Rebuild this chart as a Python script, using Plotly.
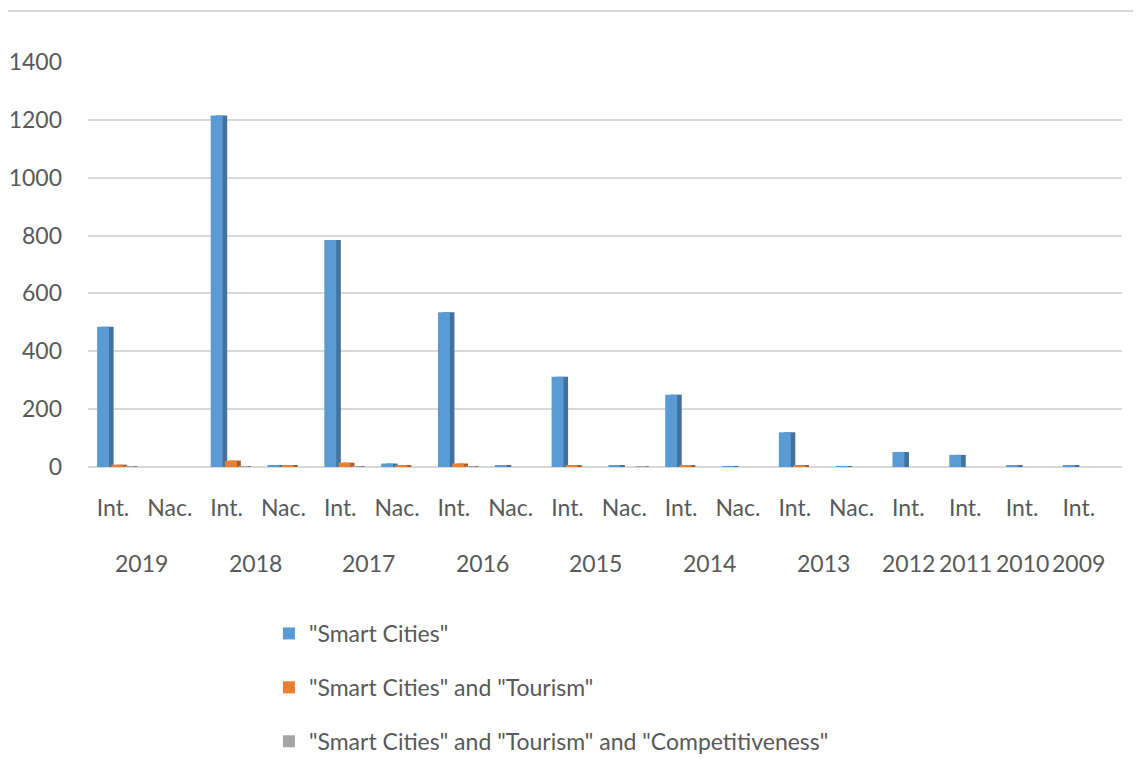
import plotly.graph_objects as go

tick_labels = ["Int.", "Nac.", "Int.", "Nac.", "Int.", "Nac.", "Int.", "Nac.", "Int.", "Nac.",
               "Int.", "Nac.", "Int.", "Nac.", "Int.", "Int.", "Int.", "Int."]
years = ["2019", "2018", "2017", "2016", "2015", "2014", "2013", "2012", "2011", "2010", "2009"]
year_pos = [0.5, 2.5, 4.5, 6.5, 8.5, 10.5, 12.5, 14, 15, 16, 17]

smart_cities = [485, 0, 1215, 5, 785, 12, 535, 4, 312, 4, 250, 3, 120, 3, 52, 42, 4, 4]
smart_tourism = [8, 0, 22, 4, 15, 4, 12, 0, 6, 0, 5, 0, 5, 0, 0, 0, 0, 0]
smart_tourism_comp = [2, 0, 2, 0, 2, 0, 2, 0, 0, 2, 0, 0, 0, 0, 0, 0, 0, 0]

names = ['"Smart Cities"', '"Smart Cities" and "Tourism"',
         '"Smart Cities" and "Tourism" and "Competitiveness"']
colors = ["#5b9bd5", "#ed7d31", "#a5a5a5"]
side_colors = ["#41719c", "#ae5a21", "#7c7c7c"]
series = [smart_cities, smart_tourism, smart_tourism_comp]
# (face offset, face width, side offset, side width) in category units — mimics the 3D look
geom = [(-0.28, 0.21, -0.19, 0.20), (-0.03, 0.21, 0.05, 0.20), (0.21, 0.17, 0.27, 0.16)]

x = list(range(len(tick_labels)))
FONT = "Lato, Open Sans, sans-serif"
TXT = "#595959"

fig = go.Figure()
for i, (nm, col, scol, vals, g) in enumerate(zip(names, colors, side_colors, series, geom)):
    fo, fw, so, sw = g
    fig.add_trace(go.Bar(x=x, y=vals, marker_color=scol, marker_line_width=0,
                         offset=so, width=sw, showlegend=False, hoverinfo="skip",
                         legendgroup=f"g{i}"))
    fig.add_trace(go.Bar(x=x, y=vals, name=nm, marker_color=col, marker_line_width=0,
                         offset=fo, width=fw, legendgroup=f"g{i}"))

# page body has an 8px margin; compensate so the plot lands where the reference has it
L, R, T, B = 80, 27, 54, 300
plot_w = 1141 - L - R
plot_h = 759 - T - B
fig.update_layout(
    width=1141, height=759,
    margin=dict(l=L, r=R, t=T, b=B, autoexpand=False),
    paper_bgcolor="white", plot_bgcolor="white",
    barmode="group",
    font=dict(family=FONT, size=23, color=TXT),
    showlegend=True,
    legend=dict(orientation="v", x=0.175, xanchor="left", y=-0.358, yanchor="top",
                font=dict(size=23, color=TXT), tracegroupgap=21,
                itemwidth=30, bgcolor="rgba(0,0,0,0)"),
    xaxis=dict(tickmode="array", tickvals=x, ticktext=tick_labels,
               range=[-0.44, 17.76], showgrid=False, showline=False,
               ticks="", ticklabelstandoff=25, tickfont=dict(size=23, color=TXT)),
    yaxis=dict(range=[0, 1400], tickvals=[0, 200, 400, 600, 800, 1000, 1200, 1400],
               showgrid=True, gridcolor="#d9d9d9", gridwidth=2,
               zeroline=True, zerolinecolor="#d9d9d9", zerolinewidth=2,
               showline=False, ticks="", ticklabelstandoff=25,
               tickfont=dict(size=23, color=TXT)),
)

for yr, pos in zip(years, year_pos):
    fig.add_annotation(x=pos, y=-96 / plot_h, xref="x", yref="paper",
                       text=yr, showarrow=False, yanchor="middle",
                       font=dict(size=23, color=TXT, family=FONT))

fig.add_shape(type="line", xref="paper", yref="paper",
              x0=-L / plot_w, x1=1 + R / plot_w, y0=456 / plot_h, y1=456 / plot_h,
              line=dict(color="#d9d9d9", width=2))

fig.write_html("out.html")
